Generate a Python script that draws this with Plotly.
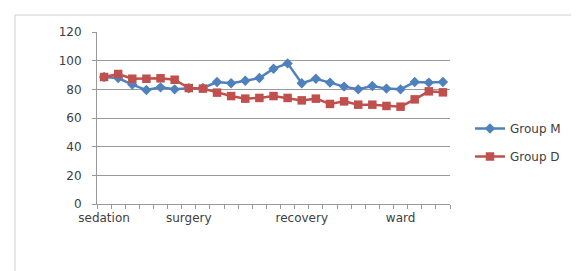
import plotly.graph_objects as go

x_index = list(range(25))
tick_positions = [0, 6, 14, 21]
tick_labels = ["sedation", "surgery", "recovery", "ward"]

group_m = [88.6, 87.9, 83.3, 79.5, 81.4, 80.0, 80.8, 81.0, 85.1, 84.2, 86.0, 87.9, 94.4,
           98.1, 84.2, 87.4, 84.7, 81.9, 80.0, 82.3, 80.5, 80.0, 85.1, 84.7, 85.1]
group_d = [88.6, 90.7, 87.4, 87.4, 87.7, 86.7, 80.9, 80.5, 77.7, 75.3, 73.5, 74.0, 75.3,
           74.0, 72.3, 73.5, 69.8, 71.6, 69.3, 69.3, 68.4, 67.9, 73.0, 78.6, 77.9]

y_ticks = [0, 20, 40, 60, 80, 100, 120]

FONT = dict(family="DejaVu Sans", size=12, color="#404040")
GRID = "#999999"

fig = go.Figure()
fig.add_trace(go.Scatter(
    x=x_index, y=group_m, name="Group M", mode="lines+markers",
    line=dict(color="#4F81BD", width=2.5),
    marker=dict(symbol="diamond", size=8, color="#4F81BD"),
    legendgroup="M", legendrank=1,
))
fig.add_trace(go.Scatter(
    x=x_index, y=group_d, name="Group D", mode="lines+markers",
    line=dict(color="#C0504D", width=2.5),
    marker=dict(symbol="square", size=8.5, color="#C0504D"),
    legendgroup="D", legendrank=2,
))

L, R, T, B = 89, 137, 24, 75
W, H = 579, 271
pw = W - L - R
ph = H - T - B

def px_x(p):
    return (p - L) / pw

def px_y(p):
    return (H - B - p) / ph

fig.update_layout(
    width=W, height=H,
    margin=dict(l=L, r=R, t=T, b=B, pad=0),
    paper_bgcolor="white", plot_bgcolor="white",
    font=FONT,
    showlegend=True,
    legend=dict(x=px_x(462), y=px_y(106), xanchor="left", yanchor="top",
                font=FONT, tracegroupgap=9, bgcolor="rgba(0,0,0,0)"),
    xaxis=dict(range=[-0.5, 24.5], tickmode="array", tickvals=tick_positions,
               ticktext=tick_labels, ticks="", showgrid=False, zeroline=False,
               showline=True, linecolor=GRID, linewidth=1,
               ticklabelstandoff=3,
               minor=dict(tickmode="linear", tick0=-0.5, dtick=1, ticks="outside",
                          ticklen=4, tickcolor=GRID, showgrid=False)),
    yaxis=dict(range=[0, 120], tickmode="array", tickvals=y_ticks,
               showgrid=True, gridcolor=GRID, gridwidth=1, zeroline=False,
               showline=True, linecolor=GRID, linewidth=1,
               ticks="outside", ticklen=4, tickcolor=GRID, ticklabelstandoff=8),
    shapes=[dict(type="rect", xref="paper", yref="paper",
                 x0=px_x(7), x1=px_x(578), y0=px_y(270), y1=px_y(7),
                 line=dict(color="#d0d0d0", width=1), fillcolor="rgba(0,0,0,0)",
                 layer="below")],
)

fig.write_html("out.html")
